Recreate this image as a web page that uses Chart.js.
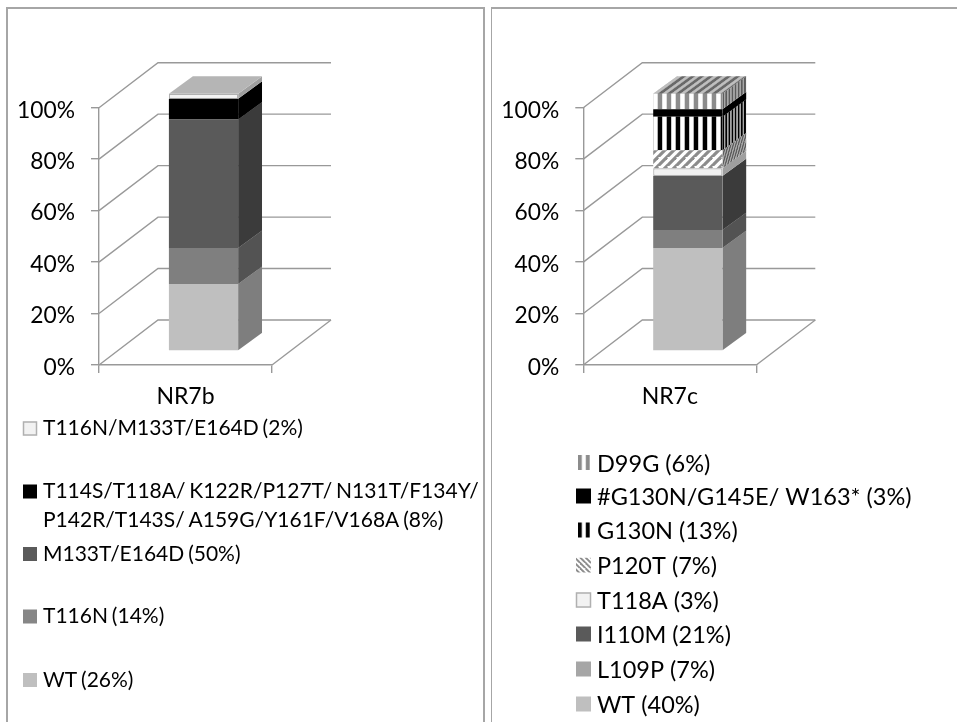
<!DOCTYPE html>
<html><head><meta charset="utf-8">
<script src="https://cdn.jsdelivr.net/npm/chart.js@4"></script>
<style>
html,body{margin:0;padding:0;background:#fff;width:957px;height:722px;overflow:hidden}
canvas{position:absolute;top:0}
.f{position:absolute;background:#a6a6a6}
</style></head><body>
<div class="f" style="left:6px;top:7px;width:478px;height:1.5px"></div>
<div class="f" style="left:6px;top:7px;width:1.5px;height:715px"></div>
<div class="f" style="left:482.5px;top:7px;width:2px;height:715px"></div>
<div class="f" style="left:490.5px;top:7px;width:467px;height:1.5px"></div>
<div class="f" style="left:490.5px;top:7px;width:1.5px;height:715px"></div>
<canvas id="c1" style="left:0" width="487" height="722"></canvas>
<canvas id="c2" style="left:487px" width="470" height="722"></canvas>
<script>
// ---- data ----
const tickValues = [0, 20, 40, 60, 80, 100];

const categoriesB = ['NR7b'];
const labelsB = ['WT (26%)', 'T116N (14%)', 'M133T/E164D (50%)',
  'T114S/T118A/ K122R/P127T/ N131T/F134Y/ P142R/T143S/ A159G/Y161F/V168A (8%)',
  'T116N/M133T/E164D (2%)'];
const valuesB = [26, 14, 50, 8, 2];
const fillsB = ['#bfbfbf', '#7f7f7f', '#5a5a5a', '#000000', '#f2f2f2'];
const swatchB = ['#bfbfbf', '#868686', '#5a5a5a', '#000000', '#f2f2f2'];

const categoriesC = ['NR7c'];
const labelsC = ['WT (40%)', 'L109P (7%)', 'I110M (21%)', 'T118A (3%)', 'P120T (7%)',
  'G130N (13%)', '#G130N/G145E/ W163* (3%)', 'D99G (6%)'];
const valuesC = [40, 7, 21, 3, 7, 13, 3, 6];
const fillsC = ['#bfbfbf', '#7f7f7f', '#5a5a5a', '#f2f2f2', 'diag', 'blackStripe', '#000000', 'grayStripe'];
const swatchC = ['#bfbfbf', '#a6a6a6', '#5a5a5a', '#f2f2f2', 'diag', 'blackStripe', '#000000', 'grayStripe'];

// ---- layout (baselines of legend lines, from top of the image) ----
const legendBaselinesB = [686.5, 623, 560.5, 498, 435];
const legendBaselinesC = [713, 678, 643, 609, 574, 539, 505, 471.5];
const FONT = 'Lato';
const GRID = '#999999';
const wall = {dx: 59, dy: 45};
const depth = {dx: 24, dy: 17.5};
const shift = {dx: 18, dy: -14};

function stripe(color) {
  const c = document.createElement('canvas'); c.width = 9; c.height = 9;
  const x = c.getContext('2d');
  x.fillStyle = '#fff'; x.fillRect(0, 0, 9, 9);
  x.fillStyle = color; x.fillRect(0, 0, 4.2, 9); x.fillRect(8.7, 0, 0.3, 9);
  return c;
}
function diag() {
  const c = document.createElement('canvas'); c.width = 9; c.height = 9;
  const x = c.getContext('2d');
  x.fillStyle = '#fff'; x.fillRect(0, 0, 9, 9);
  x.strokeStyle = '#8c8c8c'; x.lineWidth = 3.2;
  for (let i = -9; i <= 18; i += 9) { x.beginPath(); x.moveTo(i - 9, 18); x.lineTo(i + 9, 0); x.stroke(); }
  return c;
}
function paint(ctx, key) {
  if (key === 'grayStripe') return ctx.createPattern(stripe('#8c8c8c'), 'repeat');
  if (key === 'blackStripe') return ctx.createPattern(stripe('#000000'), 'repeat');
  if (key === 'diag') return ctx.createPattern(diag(), 'repeat');
  return key;
}

const threeD = {
  id: 'threeD',
  beforeDatasetsDraw(chart) {
    const {ctx, scales: {x, y}} = chart;
    const x0 = x.left, x1 = x.right;
    ctx.save();
    ctx.strokeStyle = GRID; ctx.lineWidth = 1.4;
    y.ticks.forEach((t, i) => {
      const py = y.getPixelForTick(i);
      ctx.beginPath();
      ctx.moveTo(x0, py);
      ctx.lineTo(x0 + wall.dx, py - wall.dy);
      ctx.lineTo(x1 + wall.dx, py - wall.dy);
      ctx.stroke();
    });
    const py = y.getPixelForValue(0);
    ctx.beginPath();
    ctx.moveTo(x1, py);
    ctx.lineTo(x1 + wall.dx, py - wall.dy);
    ctx.stroke();
    ctx.restore();
    ctx.save();
    ctx.translate(shift.dx, shift.dy);
  },
  afterDatasetsDraw(chart) {
    const ctx = chart.ctx;
    const n = chart.data.datasets.length;
    chart.data.datasets.forEach((ds, i) => {
      const bar = chart.getDatasetMeta(i).data[0];
      const left = bar.x - bar.width / 2, right = bar.x + bar.width / 2;
      const top = bar.y, bottom = bar.base;
      // side face
      const k = depth.dx / bar.width, s = depth.dy / bar.width;
      ctx.save();
      ctx.beginPath();
      ctx.moveTo(right, bottom); ctx.lineTo(right, top);
      ctx.lineTo(right + depth.dx, top - depth.dy);
      ctx.lineTo(right + depth.dx, bottom - depth.dy);
      ctx.closePath(); ctx.clip();
      ctx.transform(k, -s, 0, 1, right, 0);
      ctx.fillStyle = ds.backgroundColor;
      ctx.fillRect(0, top - depth.dy * 2, bar.width, bottom - top + depth.dy * 3);
      ctx.fillStyle = 'rgba(0,0,0,0.34)';
      ctx.fillRect(0, top - depth.dy * 2, bar.width, bottom - top + depth.dy * 3);
      ctx.restore();
      // top face of the last segment
      if (i === n - 1) {
        const sh = depth.dx / depth.dy;
        ctx.save();
        ctx.beginPath();
        ctx.moveTo(left, top); ctx.lineTo(right, top);
        ctx.lineTo(right + depth.dx, top - depth.dy);
        ctx.lineTo(left + depth.dx, top - depth.dy);
        ctx.closePath(); ctx.clip();
        ctx.transform(1, 0, -sh, 1, top * sh, 0);
        ctx.fillStyle = ds.backgroundColor;
        ctx.fillRect(left - 5, top - depth.dy - 2, bar.width + 10, depth.dy + 4);
        ctx.fillStyle = 'rgba(0,0,0,0.25)';
        ctx.fillRect(left - 5, top - depth.dy - 2, bar.width + 10, depth.dy + 4);
        ctx.restore();
      }
    });
    ctx.restore();
  },
  afterDraw(chart) {
    const o = chart.options.plugins.threeD;
    const ctx = chart.ctx;
    ctx.save();
    ctx.font = o.fontSize + 'px ' + FONT;
    ctx.wordSpacing = o.wordSpacing;
    ctx.textBaseline = 'alphabetic';
    const maxW = o.textMax - o.textX;
    chart.data.datasets.forEach((ds, i) => {
      const words = ds.label.split(' ');
      const lines = []; let cur = '';
      words.forEach(w => {
        const t = cur ? cur + ' ' + w : w;
        if (ctx.measureText(t).width > maxW && cur) { lines.push(cur); cur = w; } else cur = t;
      });
      lines.push(cur);
      const base = o.baselines[i];
      const key = o.swatches[i];
      const size = o.swatchSize;
      ctx.save();
      ctx.translate(o.swatchX, base - o.swatchUp);
      if (key === 'grayStripe' || key === 'blackStripe') {
        ctx.translate(2, 0);
        ctx.scale(0.9, 1);
        ctx.fillStyle = paint(ctx, key);
        ctx.fillRect(0, 0, 13.2, size);
      } else if (key === 'diag') {
        ctx.beginPath(); ctx.rect(0, 0, size, size); ctx.clip();
        ctx.translate(size, 0); ctx.scale(-0.6, 0.6);
        ctx.fillStyle = paint(ctx, key);
        ctx.fillRect(0, 0, 26, 26);
      } else {
        ctx.fillStyle = key;
        ctx.fillRect(0, 0, size, size);
        if (key === '#f2f2f2') { ctx.strokeStyle = '#b0b0b0'; ctx.lineWidth = 1.5; ctx.strokeRect(0.5, 0.5, size - 1, size - 1); }
      }
      ctx.restore();
      ctx.fillStyle = '#000';
      lines.forEach((l, j) => ctx.fillText(l, o.textX, base + j * 29));
    });
    ctx.restore();
  }
};

function build(id, cats, labels, values, fills, swatches, baselines, axisX, W, legend) {
  const canvas = document.getElementById(id);
  const ctx = canvas.getContext('2d');
  const datasets = labels.map((l, i) => {
    const white = fills[i] === '#f2f2f2';
    return {
      label: l,
      data: [values[i]],
      backgroundColor: paint(ctx, fills[i]),
      borderColor: white ? '#b0b0b0' : 'transparent',
      borderWidth: white ? 1.2 : 0,
      borderSkipped: false,
      stack: 's',
      categoryPercentage: 1,
      barPercentage: 0.4,
      clip: false
    };
  });
  return new Chart(canvas, {
    type: 'bar',
    data: {labels: cats, datasets},
    plugins: [threeD],
    options: {
      responsive: false, animation: false, events: [],
      layout: {padding: {left: 0, top: 107.7, right: W - axisX - 173, bottom: 0}},
      plugins: {
        legend: {display: false}, tooltip: {enabled: false}, title: {display: false},
        threeD: Object.assign({baselines, swatches}, legend)
      },
      scales: {
        x: {
          stacked: true,
          afterFit(s) { s.height = 722 - 365; },
          grid: {display: true, offset: true, drawOnChartArea: false, color: GRID, lineWidth: 1.4, tickLength: 8},
          border: {display: true, color: GRID, width: 1.4},
          ticks: {color: '#000', font: {family: FONT, size: 23}, padding: 10}
        },
        y: {
          stacked: true, min: 0, max: 100,
          afterFit(s) { s.width = axisX; },
          afterBuildTicks(s) { s.ticks = tickValues.map(v => ({value: v})); },
          grid: {display: true, drawOnChartArea: false, color: GRID, lineWidth: 1.4, tickLength: 8},
          border: {display: true, color: GRID, width: 1.4},
          ticks: {color: '#000', font: {family: FONT, size: 22.8}, padding: 16, labelOffset: 2.5, callback: v => v + '%'}
        }
      }
    }
  });
}
function start() {
  build('c1', categoriesB, labelsB, valuesB, fillsB, swatchB, legendBaselinesB, 99, 487,
    {fontSize: 21, wordSpacing: '-1.5px', swatchX: 23, swatchUp: 13.5, swatchSize: 14, textX: 43, textMax: 482});
  build('c2', categoriesC, labelsC, valuesC, fillsC, swatchC, legendBaselinesC, 96.3, 470,
    {fontSize: 23.5, wordSpacing: '0px', swatchX: 89, swatchUp: 16.5, swatchSize: 15, textX: 110, textMax: 465});
}
if (document.fonts && document.fonts.load) {
  Promise.all([document.fonts.load('20px ' + FONT)]).then(start, start);
} else start();
</script>
</body></html>
